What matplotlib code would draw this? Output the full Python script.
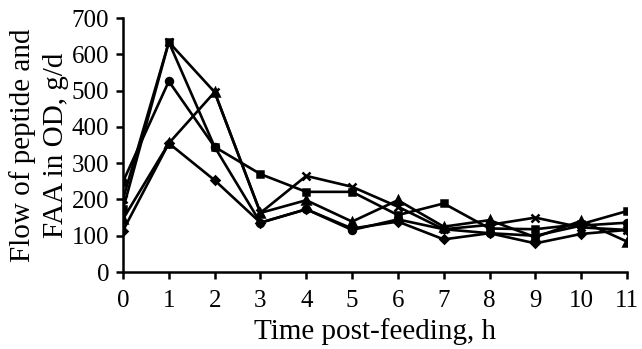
import matplotlib.pyplot as plt

# hours after feeding
hours = [0, 1, 2, 3, 4, 5, 6, 7, 8, 9, 10, 11]

# flow of peptide + FAA in OD, g/d
diamond = [114, 355, 253, 136, 173, 120, 139, 90, 107, 79, 105, 116]
square = [173, 634, 345, 270, 221, 221, 157, 189, 120, 118, 132, 168]
triangle = [146, 355, 496, 163, 198, 139, 198, 125, 143, 96, 141, 84]
cross = [201, 634, 496, 163, 265, 235, 180, 118, 130, 150, 123, 116]
circle = [249, 526, 345, 136, 173, 116, 145, 118, 107, 100, 128, 136]

y_ticks = [0, 100, 200, 300, 400, 500, 600, 700]

plt.rcParams['font.family'] = ['Liberation Serif', 'DejaVu Serif']

fig = plt.figure(figsize=(6.42, 3.49), dpi=100)
ax = fig.add_axes([0.1916, 0.2206, 0.785, 0.7274])

series = [(diamond, 'D', 4.5), (square, 's', 5), (triangle, '^', 5.5),
          (cross, 'x', 6), (circle, 'o', 5)]
for vals, m, ms in series:
    ax.plot(hours, vals, color='black', lw=1.9, marker=m, ms=ms,
            mew=1.8, mfc='black', mec='black')

ax.set_xlim(0, 11)
ax.set_ylim(0, 700)
ax.set_xticks(hours)
ax.set_yticks(y_ticks)

for s in ['top', 'right']:
    ax.spines[s].set_visible(False)
for s in ['left', 'bottom']:
    ax.spines[s].set_linewidth(1.8)
ax.spines['left'].set_zorder(0)

ax.tick_params(axis='both', direction='out', length=5, width=1.8, labelsize=18)
ax.tick_params(axis='x', pad=8)
ax.tick_params(axis='y', pad=5)

ax.set_xlabel('Time post-feeding, h', fontsize=21, labelpad=4)
ax.set_ylabel('Flow of peptide and\nFAA in OD, g/d', fontsize=21, labelpad=2,
              linespacing=1.35)

for lbl in ax.get_xticklabels() + ax.get_yticklabels():
    lbl.set_clip_on(False)

fig.savefig('out.png', dpi=100)
